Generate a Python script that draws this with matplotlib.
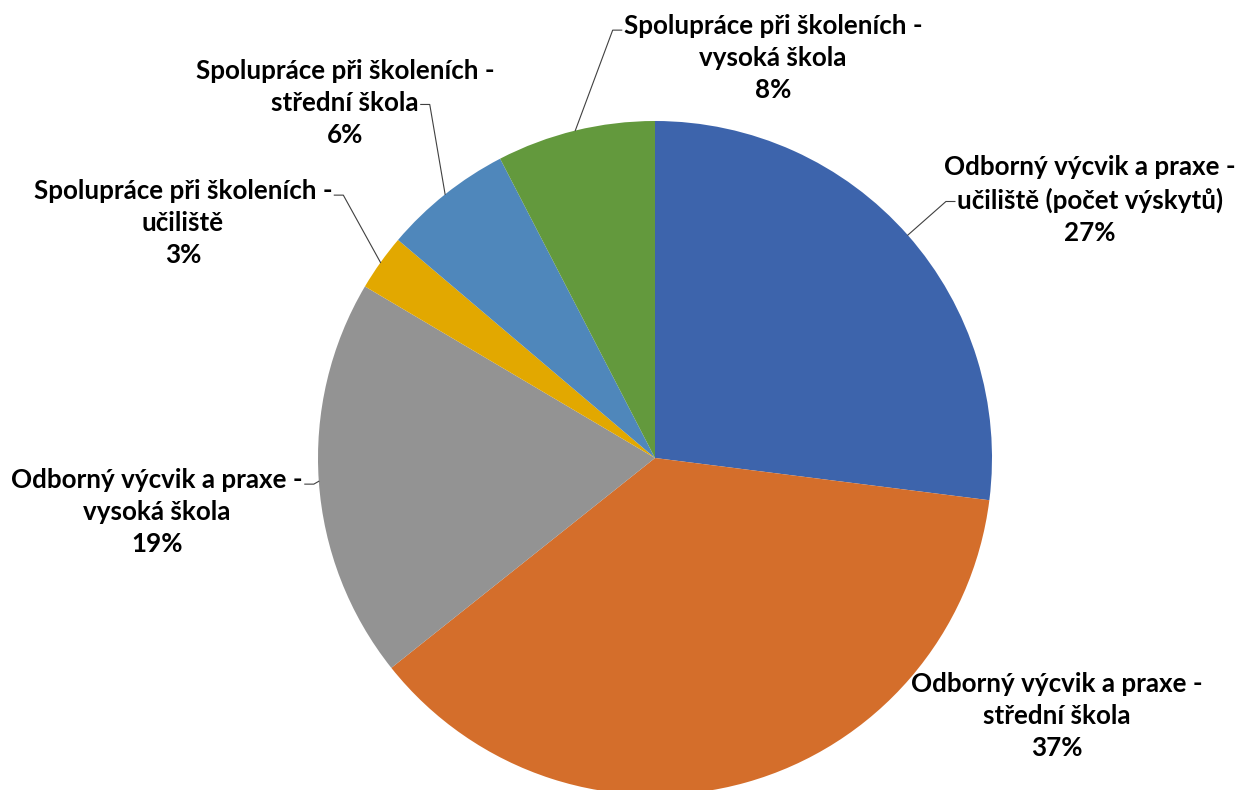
import numpy as np
import matplotlib.pyplot as plt

plt.rcParams['font.family'] = ['Lato', 'DejaVu Sans']

labels = ['Odborný výcvik a praxe -\nučiliště (počet výskytů)',
          'Odborný výcvik a praxe -\nstřední škola',
          'Odborný výcvik a praxe -\nvysoká škola',
          'Spolupráce při školeních -\nučiliště',
          'Spolupráce při školeních -\nstřední škola',
          'Spolupráce při školeních -\nvysoká škola']
values = [27.0, 37.3, 19.2, 2.7, 6.2, 7.6]
colors = ['#3D64AC', '#D46E2B', '#939393', '#E2A800', '#4F87BB', '#63993D']

# label block centres (pixels, y from top)
label_pos = [(1090, 200), (1057, 716), (157, 512), (183, 223), (345, 103), (773, 58)]
# leader elbow: (line index, side) or None
elbow = [(1, 'left'), None, (0, 'right'), (0, 'right'), (1, 'right'), (0, 'left')]

W, H = 1243, 790
cx, cy, r = 655, 458, 337
fs = 18.7
ls = 1.4

fig = plt.figure(figsize=(W / 100, H / 100), dpi=100)
ax = fig.add_axes([0, 0, 1, 1])

wedges, _ = ax.pie(values, colors=colors, startangle=90, counterclock=False,
                   center=(cx, H - cy), radius=r, frame=True,
                   wedgeprops=dict(linewidth=0))
ax.set_xlim(0, W)
ax.set_ylim(0, H)
ax.set_aspect('equal')
ax.axis('off')

total = sum(values)
fig.canvas.draw()
inv = ax.transData.inverted()
for i, w in enumerate(wedges):
    pct = values[i] / total * 100
    tx, ty = label_pos[i]
    txt = labels[i] + '\n%d%%' % round(pct)
    t = ax.text(tx, H - ty, txt, ha='center', va='center',
                multialignment='center', fontsize=fs, fontweight='bold',
                linespacing=ls, color='black')
    if elbow[i] is None:
        continue
    k, side = elbow[i]
    bb = t.get_window_extent().transformed(inv)
    lh = (bb.y1 - bb.y0) / 3
    ly = bb.y1 - lh * (k + 0.55)
    tmp = ax.text(tx, H - ty, txt.split('\n')[k], ha='center', va='center',
                  fontsize=fs, fontweight='bold')
    lb = tmp.get_window_extent().transformed(inv)
    tmp.remove()
    mid = np.deg2rad((w.theta1 + w.theta2) / 2)
    ex = cx + r * np.cos(mid)
    ey = (H - cy) + r * np.sin(mid)
    if side == 'right':
        x0 = lb.x1 + 2
        xs = [x0, x0 + 9, ex]
    else:
        x0 = lb.x0 - 2
        xs = [x0, x0 - 9, ex]
    ax.plot(xs, [ly, ly, ey], color='#404040', lw=0.8)

fig.savefig('out.png', dpi=100)
